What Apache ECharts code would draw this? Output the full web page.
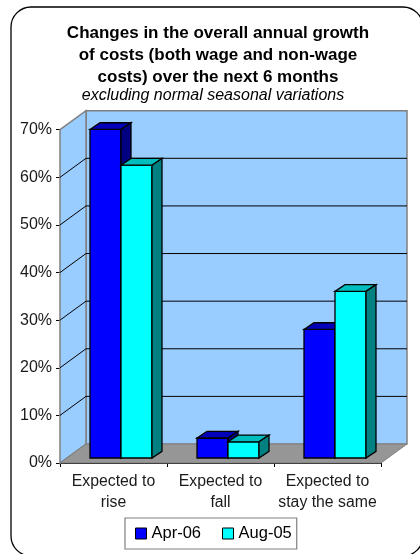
<!DOCTYPE html>
<html><head><meta charset="utf-8">
<script src="https://cdn.jsdelivr.net/npm/echarts@6/dist/echarts.min.js"></script>
<style>html,body{margin:0;padding:0;background:#fff}#c{width:420px;height:554px}</style>
</head><body><div id="c"></div>
<script>
const categories = ['Expected to\nrise', 'Expected to\nfall', 'Expected to\nstay the same'];
const apr06 = [69, 4.2, 27];
const aug05 = [61.5, 3.4, 35];
const ticks = [0, 10, 20, 30, 40, 50, 60, 70];
const WALL = [26, -19], BAR = [7.5, -5], DEPTH = [10, -6.7], BW = 31;
const chart = echarts.init(document.getElementById('c'), null, {renderer: 'canvas'});
function poly(points, fill, stroke, lw) {
  return {type: 'polygon', shape: {points}, style: {fill, stroke: stroke || fill, lineWidth: lw || 0}};
}
function line(a, b, stroke, lw) {
  return {type: 'line', shape: {x1: a[0], y1: a[1], x2: b[0], y2: b[1]}, style: {stroke, lineWidth: lw || 1}};
}
function sceneItem(params, api) {
  const v = api.value(0);
  const left = params.coordSys.x, right = left + params.coordSys.width;
  const y = api.coord([0, v])[1];
  const y0 = api.coord([0, 0])[1], yTop = api.coord([0, 70])[1];
  const ox = WALL[0], oy = WALL[1];
  const ch = [];
  if (v === 0) {
    ch.push(poly([[left + ox, yTop + oy], [right + ox, yTop + oy], [right + ox, y0 + oy], [left + ox, y0 + oy]], '#99ccff', '#808080', 1.5));
    ch.push(poly([[left, yTop], [left + ox, yTop + oy], [left + ox, y0 + oy], [left, y0]], '#99ccff', '#808080', 1.5));
    ch.push(poly([[left, y0], [left + ox, y0 + oy], [right + ox, y0 + oy], [right, y0]], '#969696', '#808080', 1));
  } else if (v < 70) {
    ch.push(line([left, y], [left + ox, y + oy], '#000', 1));
    ch.push(line([left + ox, y + oy], [right + ox, y + oy], '#000', 1));
  }
  return {type: 'group', children: ch};
}
function barItem(side, front, top, dark) {
  return function (params, api) {
    const p = api.coord([api.value(0), api.value(1)]);
    const base = api.coord([api.value(0), 0]);
    const x0 = p[0] + BAR[0] + (side === 0 ? -BW : 0), x1 = x0 + BW;
    const yt = p[1] + BAR[1], yb = base[1] + BAR[1];
    const dx = DEPTH[0], dy = DEPTH[1];
    return {type: 'group', children: [
      poly([[x0, yt], [x1, yt], [x1, yb], [x0, yb]], front, '#000', 1.3),
      poly([[x0, yt], [x0 + dx, yt + dy], [x1 + dx, yt + dy], [x1, yt]], top, '#000', 1.3),
      poly([[x1, yt], [x1 + dx, yt + dy], [x1 + dx, yb + dy], [x1, yb]], dark, '#000', 1.3)
    ]};
  };
}
const titleFont = 'bold 17px "Liberation Sans"';
chart.setOption({
  animation: false,
  backgroundColor: '#fff',
  graphic: [
    {type: 'rect', z: -10, shape: {x: 11, y: 7, width: 412, height: 549, r: 20}, style: {fill: '#fff', stroke: '#000', lineWidth: 1.3}},
    {type: 'text', z: 10, x: 218, y: 33, style: {text: 'Changes in the overall annual growth', font: titleFont, fill: '#000', align: 'center', verticalAlign: 'middle'}},
    {type: 'text', z: 10, x: 218, y: 55, style: {text: 'of costs (both wage and non-wage', font: titleFont, fill: '#000', align: 'center', verticalAlign: 'middle'}},
    {type: 'text', z: 10, x: 218, y: 77, style: {text: 'costs) over the next 6 months', font: titleFont, fill: '#000', align: 'center', verticalAlign: 'middle'}},
    {type: 'text', z: 10, x: 213, y: 96, style: {text: 'excluding normal seasonal variations', font: 'italic 16px "Liberation Sans"', fill: '#000', align: 'center', verticalAlign: 'middle'}}
  ],
  legend: {
    left: 125, top: 518,
    padding: [7, 5, 7, 10], itemGap: 21, itemWidth: 11, itemHeight: 11,
    borderColor: '#808080', borderWidth: 1.2, backgroundColor: '#fff',
    textStyle: {fontFamily: 'Liberation Sans', fontSize: 16.5, color: '#000'},
    data: [
      {name: 'Apr-06', icon: 'rect', itemStyle: {color: '#0000ff', borderColor: '#000', borderWidth: 1}},
      {name: 'Aug-05', icon: 'rect', itemStyle: {color: '#00ffff', borderColor: '#000', borderWidth: 1}}
    ]
  },
  grid: {left: 60, top: 129.7, width: 321, height: 333.3, containLabel: false},
  xAxis: {
    type: 'category', data: categories, boundaryGap: true,
    axisLine: {lineStyle: {color: '#000', width: 1}},
    axisTick: {show: true, alignWithLabel: false, length: 4, lineStyle: {color: '#000'}},
    axisLabel: {fontFamily: 'Liberation Sans', fontSize: 15.8, color: '#1a1a1a', lineHeight: 21, margin: 8, interval: 0}
  },
  yAxis: {
    type: 'value', min: 0, max: 70, interval: 10,
    axisLine: {show: true, lineStyle: {color: '#000', width: 1}},
    axisTick: {show: true, length: 4, lineStyle: {color: '#000'}},
    splitLine: {show: false},
    axisLabel: {formatter: '{value}%', fontFamily: 'Liberation Sans', fontSize: 16, color: '#1a1a1a', margin: 8}
  },
  series: [
    {type: 'custom', name: 'scene', silent: true, z: 1, clip: false, renderItem: sceneItem, data: ticks.map(t => [t]), encode: {y: 0}},
    {type: 'custom', name: 'Apr-06', z: 3, clip: false, renderItem: barItem(0, '#0000ff', '#0000b8', '#000080'),
      itemStyle: {color: '#0000ff'}, data: categories.map((c, i) => [i, apr06[i]]), encode: {x: 0, y: 1}},
    {type: 'custom', name: 'Aug-05', z: 4, clip: false, renderItem: barItem(1, '#00ffff', '#00bdbd', '#008080'),
      itemStyle: {color: '#00ffff'}, data: categories.map((c, i) => [i, aug05[i]]), encode: {x: 0, y: 1}}
  ]
});
</script></body></html>
